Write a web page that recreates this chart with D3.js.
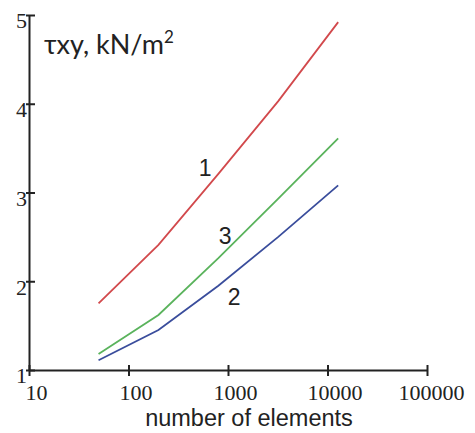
<!DOCTYPE html>
<html><head><meta charset="utf-8">
<script src="https://cdn.jsdelivr.net/npm/d3@7"></script>
<style>body{margin:0;background:#fff}svg{display:block}</style>
</head><body>
<svg id="c" width="475" height="433"></svg>
<script>
const elements = [50, 200, 800, 3200, 12800];
const series1 = [1.75, 2.41, 3.21, 4.03, 4.92];
const series2 = [1.11, 1.45, 1.95, 2.50, 3.08];
const series3 = [1.18, 1.62, 2.26, 2.93, 3.61];
const xTicks = [10, 100, 1000, 10000, 100000];
const yTicks = [1, 2, 3, 4, 5];
const seriesNames = ["1", "2", "3"];
const colors = ["#d2494c", "#3a4d9c", "#5ab35c"];
const labelAt = [{x: 590, y: 3.19}, {x: 1150, y: 1.73}, {x: 935, y: 2.42}];

const svg = d3.select("#c");
const x = d3.scaleLog().domain([10, 100000]).range([29, 427]);
const y = d3.scaleLinear().domain([1, 5]).range([370, 15]);
const ink = "#222";

// axes
const gx = svg.append("g").attr("transform", "translate(0,370)")
  .call(d3.axisBottom(x).tickValues(xTicks).tickSize(0).tickFormat(d3.format("d")));
gx.select(".domain").attr("stroke", ink).attr("stroke-width", 2);
gx.selectAll(".tick line").remove();
gx.selectAll(".tick").append("line").attr("y1", -5).attr("y2", 6).attr("stroke", ink).attr("stroke-width", 2);
gx.selectAll(".tick text").attr("y", 14).attr("dx", (d, i) => i === 4 ? 4 : 7).attr("dy", "0.71em")
  .style("font-family", "'Liberation Serif','Times New Roman',serif").style("font-size", "22px").attr("fill", ink);

const gy = svg.append("g").attr("transform", "translate(29,0)")
  .call(d3.axisLeft(y).tickValues(yTicks).tickSize(0).tickFormat(d3.format("d")));
gy.select(".domain").attr("stroke", ink).attr("stroke-width", 2);
gy.selectAll(".tick line").remove();
gy.selectAll(".tick").append("line").attr("x1", -3).attr("x2", 6).attr("stroke", ink).attr("stroke-width", 2);
gy.selectAll(".tick text").attr("x", -2).attr("dy", "0.58em")
  .style("font-family", "'Liberation Serif','Times New Roman',serif").style("font-size", "22px").attr("fill", ink);

// lines
const allSeries = [series1, series2, series3];
const line = d3.line().x((d, i) => x(elements[i])).y(d => y(d));
allSeries.forEach((s, k) => {
  svg.append("path").datum(s).attr("d", line).attr("fill", "none")
    .attr("stroke", colors[k]).attr("stroke-width", 1.8);
  svg.append("text").attr("x", x(labelAt[k].x)).attr("y", y(labelAt[k].y))
    .attr("text-anchor", "middle")
    .style("font-family", "'Liberation Sans',Arial,sans-serif").style("font-size", "23px")
    .attr("fill", ink).text(seriesNames[k]);
});

// titles
const t = svg.append("text").attr("x", 44).attr("y", 54)
  .style("font-family", "Lato,'Open Sans',sans-serif").style("font-size", "27px").attr("fill", ink);
t.append("tspan").text("τxy, kN/m");
t.append("tspan").attr("dy", -11).style("font-size", "17px").text("2");

svg.append("text").attr("x", 249).attr("y", 426).attr("text-anchor", "middle")
  .style("font-family", "'Liberation Sans',Arial,sans-serif").style("font-size", "23.5px")
  .attr("fill", ink).text("number of elements");
</script>
</body></html>
